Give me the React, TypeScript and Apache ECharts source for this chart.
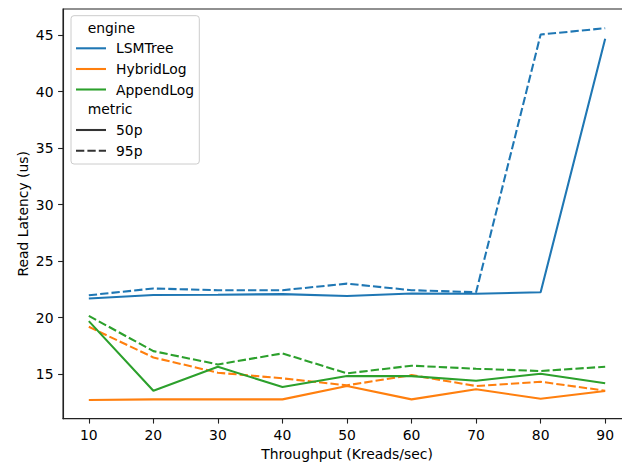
import React, { useEffect, useRef } from "react";
import * as echarts from "echarts";

const throughput = [10, 20, 30, 40, 50, 60, 70, 80, 90];
const lsm50 = [21.69, 22.0, 22.02, 22.07, 21.9, 22.13, 22.1, 22.24, 44.66];
const lsm95 = [21.97, 22.57, 22.42, 22.42, 23.0, 22.42, 22.24, 45.04, 45.6];
const hyb50 = [12.7, 12.76, 12.76, 12.76, 13.95, 12.76, 13.65, 12.82, 13.5];
const hyb95 = [19.18, 16.47, 15.12, 14.62, 14.0, 14.91, 13.94, 14.32, 13.53];
const app50 = [19.68, 13.53, 15.65, 13.85, 14.82, 14.82, 14.41, 15.03, 14.18];
const app95 = [20.15, 17.03, 15.85, 16.83, 15.06, 15.74, 15.47, 15.27, 15.65];

const xTicks = [10, 20, 30, 40, 50, 60, 70, 80, 90];
const yTicks = [15, 20, 25, 30, 35, 40, 45];

const engines = ["LSMTree", "HybridLog", "AppendLog"];
const metrics = ["50p", "95p"];
const colors = ["#1f77b4", "#ff7f0e", "#2ca02c"];

const FONT = "DejaVu Sans";
const FS = 13.9;
const DASH = [8.3, 3.1];

export default function App() {
  const ref = useRef<HTMLDivElement>(null);
  useEffect(() => {
    if (!ref.current) return;
    const chart = echarts.init(ref.current, undefined, { renderer: "svg" });
    const seriesData = [
      [lsm50, lsm95],
      [hyb50, hyb95],
      [app50, app95],
    ];
    const series: any[] = [];
    engines.forEach((eng, ei) => {
      metrics.forEach((m, mi) => {
        series.push({
          name: `${eng} ${m}`,
          type: "line",
          data: throughput.map((x, i) => [x, seriesData[ei][mi][i]]),
          symbol: "none",
          showSymbol: false,
          lineStyle: {
            color: colors[ei],
            width: 2.08,
            type: mi === 0 ? "solid" : DASH,
            cap: "butt",
          },
          itemStyle: { color: colors[ei] },
          z: 2,
        });
      });
    });

    const lx0 = 76;
    const lx1 = 106;
    const tx = 116;
    const rows = [48.3, 69, 89.5, 130, 150.7];
    const graphics: any[] = [
      {
        type: "rect",
        shape: { x: 71, y: 15.7, width: 128.3, height: 148.3, r: 3 },
        style: { fill: "rgba(255,255,255,0.8)", stroke: "#cccccc", lineWidth: 1 },
        z: 100,
      },
      {
        type: "text",
        x: 87.7,
        y: 28,
        style: { text: "engine", font: `${FS}px '${FONT}'`, fill: "#000", verticalAlign: "middle" },
        z: 101,
      },
      {
        type: "text",
        x: 87.7,
        y: 109.3,
        style: { text: "metric", font: `${FS}px '${FONT}'`, fill: "#000", verticalAlign: "middle" },
        z: 101,
      },
    ];
    engines.forEach((eng, i) => {
      graphics.push({
        type: "line",
        shape: { x1: lx0, y1: rows[i], x2: lx1, y2: rows[i] },
        style: { stroke: colors[i], lineWidth: 2.08 },
        z: 101,
      });
      graphics.push({
        type: "text",
        x: tx,
        y: rows[i],
        style: { text: eng, font: `${FS}px '${FONT}'`, fill: "#000", verticalAlign: "middle" },
        z: 101,
      });
    });
    metrics.forEach((m, i) => {
      const y = rows[3 + i];
      graphics.push({
        type: "line",
        shape: { x1: lx0, y1: y, x2: lx1, y2: y },
        style: { stroke: "#333333", lineWidth: 2.08, lineDash: i === 0 ? null : DASH },
        z: 101,
      });
      graphics.push({
        type: "text",
        x: tx,
        y,
        style: { text: m, font: `${FS}px '${FONT}'`, fill: "#000", verticalAlign: "middle" },
        z: 101,
      });
    });

    chart.setOption({
      animation: false,
      backgroundColor: "#fff",
      grid: {
        left: 63,
        right: 9,
        top: 9,
        bottom: 47.3,
        show: true,
        borderColor: "#222",
        borderWidth: 1.1,
        backgroundColor: "transparent",
      },
      xAxis: {
        type: "value",
        min: 6,
        max: 94,
        name: "Throughput (Kreads/sec)",
        nameLocation: "middle",
        nameGap: 28,
        nameMoveOverlap: false,
        nameTextStyle: { fontFamily: FONT, fontSize: FS, color: "#000" },
        axisLine: { show: true, lineStyle: { color: "#222", width: 1.1 } },
        axisTick: {
          show: true,
          inside: false,
          length: 4.9,
          lineStyle: { color: "#222", width: 1.1 },
          customValues: xTicks,
        },
        axisLabel: {
          fontFamily: FONT,
          fontSize: FS,
          color: "#000",
          margin: 9,
          customValues: xTicks,
        },
        splitLine: { show: false },
      },
      yAxis: {
        type: "value",
        min: 11.05,
        max: 47.3,
        name: "Read Latency (us)",
        nameLocation: "middle",
        nameGap: 33,
        nameMoveOverlap: false,
        nameRotate: 90,
        nameTextStyle: { fontFamily: FONT, fontSize: FS, color: "#000" },
        axisLine: { show: true, lineStyle: { color: "#222", width: 1.1 } },
        axisTick: {
          show: true,
          inside: false,
          length: 4.9,
          lineStyle: { color: "#222", width: 1.1 },
          customValues: yTicks,
        },
        axisLabel: {
          fontFamily: FONT,
          fontSize: FS,
          color: "#000",
          margin: 9.5,
          customValues: yTicks,
        },
        splitLine: { show: false },
      },
      series,
      graphic: graphics,
    });
    return () => chart.dispose();
  }, []);

  return (
    <div
      style={{
        position: "fixed",
        left: 0,
        top: 0,
        width: 622,
        height: 466,
        overflow: "hidden",
        background: "#fff",
      }}
    >
      <div ref={ref} style={{ width: 640, height: 466 }} />
    </div>
  );
}
